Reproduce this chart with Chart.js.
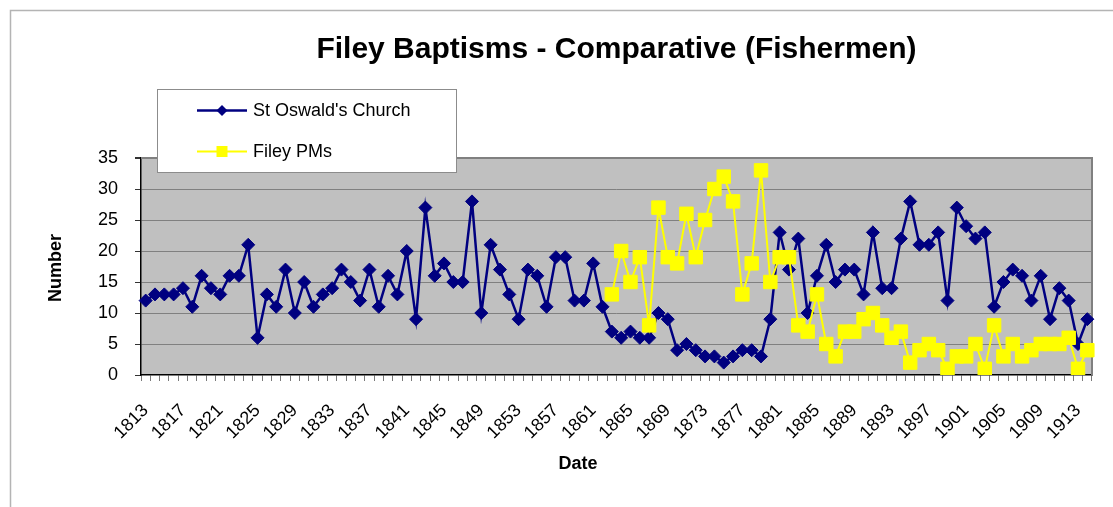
<!DOCTYPE html>
<html>
<head>
<meta charset="utf-8">
<title>Filey Baptisms - Comparative (Fishermen)</title>
<script src="https://cdn.jsdelivr.net/npm/chart.js@4.4.1/dist/chart.umd.min.js"></script>
<style>
  html, body { margin: 0; padding: 0; background: #ffffff; }
  #wrap { width: 1113px; height: 507px; position: relative; }
</style>
</head>
<body>
<div id="wrap"><canvas id="chart" width="1113" height="507"></canvas></div>
<script>
// Baptism years (one category per year)
const years = [
  '1813','1814','1815','1816','1817','1818','1819','1820','1821','1822',
  '1823','1824','1825','1826','1827','1828','1829','1830','1831','1832',
  '1833','1834','1835','1836','1837','1838','1839','1840','1841','1842',
  '1843','1844','1845','1846','1847','1848','1849','1850','1851','1852',
  '1853','1854','1855','1856','1857','1858','1859','1860','1861','1862',
  '1863','1864','1865','1866','1867','1868','1869','1870','1871','1872',
  '1873','1874','1875','1876','1877','1878','1879','1880','1881','1882',
  '1883','1884','1885','1886','1887','1888','1889','1890','1891','1892',
  '1893','1894','1895','1896','1897','1898','1899','1900','1901','1902',
  '1903','1904','1905','1906','1907','1908','1909','1910','1911','1912',
  '1913','1914'
];

// Years that carry a printed label on the date axis
const tickLabels = [
  '1813','1817','1821','1825','1829','1833','1837','1841','1845','1849',
  '1853','1857','1861','1865','1869','1873','1877','1881','1885','1889',
  '1893','1897','1901','1905','1909','1913'
];

// St Oswald's Church, fishermen baptisms 1813-1914
const stOswalds = [
  12,13,13,13,14,11,16,14,13,16,
  16,21,6,13,11,17,10,15,11,13,
  14,17,15,12,17,11,16,13,20,9,
  27,16,18,15,15,28,10,21,17,13,
  9,17,16,11,19,19,12,12,18,11,
  7,6,7,6,6,10,9,4,5,4,
  3,3,2,3,4,4,3,9,23,17,
  22,10,16,21,15,17,17,13,23,14,
  14,22,28,21,21,23,12,27,24,22,
  23,11,15,17,16,12,16,9,14,12,
  5,9
];

// Filey Primitive Methodists, fishermen baptisms from 1863
const fileyPMsStart = '1863';
const fileyPMs = [
  13,20,15,19,8,27,19,18,26,19,
  25,30,32,28,13,18,33,15,19,19,
  8,7,13,5,3,7,7,9,10,8,
  6,7,2,4,5,4,1,3,3,5,
  1,8,3,5,3,4,5,5,5,6,
  1,4
];

const yTicks = [0, 5, 10, 15, 20, 25, 30, 35];

const FONT = "'Liberation Sans', Arial, Helvetica, sans-serif";
const NAVY = '#000080';
const YELLOW = '#FFFF00';

// PM series aligned to the full year axis (no records before its first year)
const pmOffset = years.indexOf(fileyPMsStart);
const fileyPMsAligned = years.map((y, i) => (i < pmOffset ? null : fileyPMs[i - pmOffset]));

const seriesInfo = [
  { label: "St Oswald's Church", color: NAVY, style: 'rectRot', width: 2.5 },
  { label: 'Filey PMs', color: YELLOW, style: 'rect', width: 2 }
];

// Backdrop: outer frame and grey plot area
const backdrop = {
  id: 'backdrop',
  beforeDraw(chart) {
    const { ctx, chartArea: a } = chart;
    ctx.save();
    ctx.fillStyle = '#ffffff';
    ctx.fillRect(0, 0, chart.width, chart.height);
    ctx.strokeStyle = '#b4b4b4';
    ctx.lineWidth = 1.5;
    ctx.beginPath();
    ctx.moveTo(10.5, chart.height);
    ctx.lineTo(10.5, 10.5);
    ctx.lineTo(chart.width, 10.5);
    ctx.stroke();
    ctx.fillStyle = '#C0C0C0';
    ctx.fillRect(a.left, a.top, a.right - a.left, a.bottom - a.top);
    ctx.restore();
  },
  beforeDatasetsDraw(chart) {
    const { ctx, chartArea: a } = chart;
    ctx.save();
    ctx.strokeStyle = '#808080';
    ctx.lineWidth = 2;
    ctx.beginPath();
    ctx.moveTo(a.left, a.top);
    ctx.lineTo(a.right, a.top);
    ctx.lineTo(a.right, a.bottom);
    ctx.stroke();
    ctx.restore();
  }
};

// Title, axis titles and the boxed legend laid over the plot
const annotations = {
  id: 'annotations',
  afterDraw(chart) {
    const { ctx, chartArea: a } = chart;
    ctx.save();
    ctx.fillStyle = '#000000';
    ctx.textAlign = 'center';
    ctx.textBaseline = 'middle';

    ctx.font = 'bold 30px ' + FONT;
    ctx.fillText('Filey Baptisms - Comparative (Fishermen)', (a.left + a.right) / 2, 50);

    ctx.font = 'bold 18px ' + FONT;
    ctx.fillText('Date', 578, 464);
    ctx.save();
    ctx.translate(56, 268);
    ctx.rotate(-Math.PI / 2);
    ctx.fillText('Number', 0, 0);
    ctx.restore();

    // legend box
    const bx = 157.5, by = 89.5, bw = 299, bh = 83;
    ctx.fillStyle = '#ffffff';
    ctx.fillRect(bx, by, bw, bh);
    ctx.strokeStyle = '#8c8c8c';
    ctx.lineWidth = 1;
    ctx.strokeRect(bx, by, bw, bh);

    const rows = [110.5, 151.5];
    seriesInfo.forEach((s, i) => {
      const y = rows[i];
      ctx.strokeStyle = s.color;
      ctx.lineWidth = s.width;
      ctx.beginPath();
      ctx.moveTo(197, y);
      ctx.lineTo(247, y);
      ctx.stroke();
      ctx.fillStyle = s.color;
      ctx.beginPath();
      if (s.style === 'rectRot') {
        ctx.moveTo(222 - 5.5, y);
        ctx.lineTo(222, y - 5.5);
        ctx.lineTo(222 + 5.5, y);
        ctx.lineTo(222, y + 5.5);
        ctx.closePath();
      } else {
        ctx.rect(222 - 5.5, y - 5.5, 11, 11);
      }
      ctx.fill();
      ctx.fillStyle = '#000000';
      ctx.textAlign = 'left';
      ctx.font = '18px ' + FONT;
      ctx.fillText(s.label, 253, y + 1);
    });
    ctx.restore();
  }
};

Chart.defaults.font.family = FONT;
Chart.defaults.color = '#000000';

new Chart(document.getElementById('chart'), {
  type: 'line',
  data: {
    labels: years,
    datasets: [
      {
        label: seriesInfo[0].label,
        data: stOswalds,
        borderColor: NAVY,
        backgroundColor: NAVY,
        borderWidth: 2.5,
        pointStyle: 'rectRot',
        pointRadius: 6.5,
        pointBorderWidth: 1,
        tension: 0,
        order: 2
      },
      {
        label: seriesInfo[1].label,
        data: fileyPMsAligned,
        borderColor: YELLOW,
        backgroundColor: YELLOW,
        borderWidth: 2,
        pointStyle: 'rect',
        pointRadius: 9.5,
        pointBorderWidth: 1,
        tension: 0,
        spanGaps: false,
        order: 1
      }
    ]
  },
  options: {
    responsive: false,
    devicePixelRatio: 1,
    animation: false,
    layout: { padding: { top: 158, right: 21, bottom: 0, left: 0 } },
    plugins: {
      legend: { display: false },
      tooltip: { enabled: false },
      title: { display: false }
    },
    scales: {
      x: {
        type: 'category',
        offset: true,
        afterFit(scale) {
          scale.height = 132;
          scale.paddingLeft = 0;
          scale.paddingRight = 0;
        },
        grid: {
          offset: true,
          drawOnChartArea: false,
          drawTicks: true,
          tickLength: 6,
          tickColor: '#7a7a7a',
          lineWidth: 1
        },
        border: { display: true, color: '#000000', width: 1.5 },
        ticks: {
          autoSkip: false,
          minRotation: 45,
          maxRotation: 45,
          padding: 19,
          font: { size: 18 },
          color: '#000000',
          callback(value) {
            const lbl = this.getLabelForValue(value);
            return tickLabels.includes(lbl) ? lbl : '';
          }
        }
      },
      y: {
        min: 0,
        max: 35,
        afterFit(scale) { scale.width = 141; },
        afterBuildTicks(scale) { scale.ticks = yTicks.map(v => ({ value: v })); },
        grid: {
          color: ctx => (ctx.tick && ctx.tick.value === 0 ? 'rgba(0,0,0,0)' : '#808080'),
          lineWidth: ctx => (ctx.tick && ctx.tick.value === 35 ? 2 : 1),
          tickColor: '#333333',
          tickLength: 6
        },
        border: { display: true, color: '#000000', width: 1.5 },
        ticks: {
          padding: 17,
          font: { size: 18 },
          color: '#000000'
        }
      }
    }
  },
  plugins: [backdrop, annotations]
});
</script>
</body>
</html>
